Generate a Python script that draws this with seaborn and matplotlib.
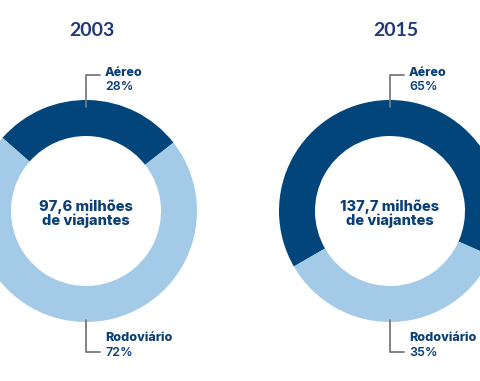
import matplotlib
matplotlib.use("Agg")
import matplotlib.pyplot as plt
import seaborn as sns

# data
years = ["2003", "2015"]
categories = ["Aéreo", "Rodoviário"]
shares_2003 = [28, 72]
shares_2015 = [65, 35]
totals = ["97,6 milhões\nde viajantes", "137,7 milhões\nde viajantes"]

sns.set_theme(style="white")
plt.rcParams['font.family'] = ['Lato', 'DejaVu Sans']

dark = "#02457a"
light = "#a3cbe8"
navy = "#1f3a78"
label_col = "#0b3f78"
grey = "#7a7a7a"
lab_font = ["Inter", "DejaVu Sans"]

fig = plt.figure(figsize=(4.8, 3.81), dpi=100)
ax = fig.add_axes([0, 0, 1, 1])

H = 381
R = 111
W = 36
layout = [
    # center x, start angle, title x
    (86, 38, 92),
    (390, -24, 396),
]

for i, shares in enumerate([shares_2003, shares_2015]):
    cx, start, tx = layout[i]
    cy = H - 211
    ax.pie(shares, colors=[dark, light], startangle=start, counterclock=True,
           center=(cx, cy), radius=R, wedgeprops=dict(width=W, linewidth=0),
           frame=True)
    ax.text(tx, H - 30, years[i], ha="center", va="center", fontsize=14,
            fontweight="bold", color=navy)
    ax.text(cx, cy - 3, totals[i], ha="center", va="center", fontsize=10.5,
            fontweight="heavy", color=label_col, linespacing=1.0,
            family=lab_font)
    # leader lines
    ax.plot([cx, cx, cx + 14], [H - 107, H - 75, H - 75], color=grey, lw=1.3)
    ax.plot([cx, cx, cx + 14], [H - 320, H - 352, H - 352], color=grey, lw=1.3)
    lx = cx + 19
    ax.text(lx, H - 73, categories[0], ha="left", va="center", fontsize=9,
            fontweight="heavy", color=label_col, family=lab_font)
    ax.text(lx, H - 87, f"{shares[0]}%", ha="left", va="center", fontsize=9,
            fontweight="semibold", color=label_col, family=lab_font)
    ax.text(lx, H - 338, categories[1], ha="left", va="center", fontsize=9,
            fontweight="heavy", color=label_col, family=lab_font)
    ax.text(lx, H - 353, f"{shares[1]}%", ha="left", va="center", fontsize=9,
            fontweight="semibold", color=label_col, family=lab_font)

ax.set_xlim(0, 480)
ax.set_ylim(0, 381)
ax.set_aspect("equal")
ax.axis("off")
fig.savefig("out.png", dpi=100)
